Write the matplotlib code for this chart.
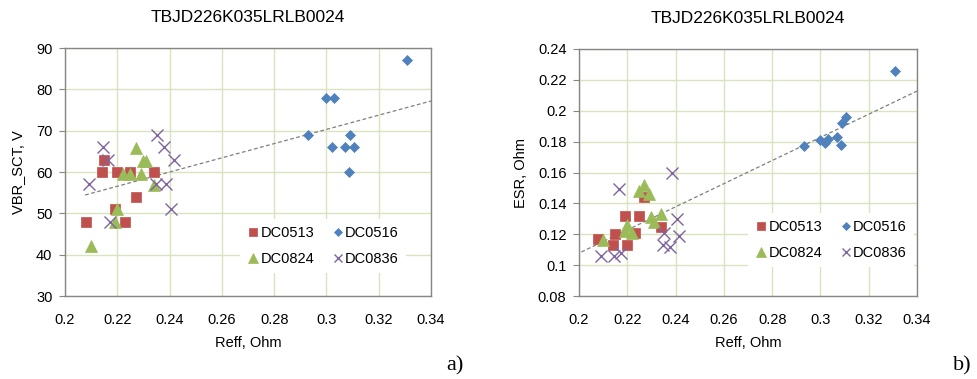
import numpy as np
import matplotlib
matplotlib.use("Agg")
import matplotlib.pyplot as plt
from matplotlib.lines import Line2D

plt.rcParams['font.family'] = ['Liberation Sans', 'DejaVu Sans']

title = "TBJD226K035LRLB0024"
series_names = ["DC0513", "DC0516", "DC0824", "DC0836"]

# Reff, Ohm per series (shared by both panels)
reff_0513 = [0.208, 0.214, 0.215, 0.219, 0.220, 0.223, 0.225, 0.227, 0.234]
reff_0516 = [0.331, 0.300, 0.303, 0.293, 0.309, 0.302, 0.307, 0.3105, 0.3086]
reff_0824 = [0.210, 0.219, 0.220, 0.222, 0.225, 0.227, 0.229, 0.230, 0.231, 0.234]
reff_0836 = [0.209, 0.2146, 0.2164, 0.2174, 0.2348, 0.2352, 0.2378, 0.2387, 0.2404, 0.2416]

# Panel a) VBR_SCT, V
vbr_0513 = [48, 60, 63, 51, 60, 48, 60, 54, 60]
vbr_0516 = [87, 78, 78, 69, 69, 66, 66, 66, 60]
vbr_0824 = [42, 48, 51, 59.5, 59.5, 65.7, 59.5, 62.7, 62.7, 56.8]
vbr_0836 = [57, 66, 63, 48, 57, 69, 66, 57, 51, 63]

# Panel b) ESR, Ohm
esr_0513 = [0.117, 0.113, 0.120, 0.1315, 0.113, 0.121, 0.1315, 0.144, 0.125]
esr_0516 = [0.226, 0.181, 0.182, 0.177, 0.192, 0.179, 0.183, 0.196, 0.178]
esr_0824 = [0.116, 0.122, 0.126, 0.121, 0.148, 0.152, 0.146, 0.131, 0.128, 0.133]
esr_0836 = [0.106, 0.106, 0.149, 0.108, 0.113, 0.121, 0.112, 0.160, 0.130, 0.119]

x_ticks = [0.2, 0.22, 0.24, 0.26, 0.28, 0.3, 0.32, 0.34]
x_tick_labels = ["0.2", "0.22", "0.24", "0.26", "0.28", "0.3", "0.32", "0.34"]
yA_ticks = [30, 40, 50, 60, 70, 80, 90]
yB_ticks = [0.08, 0.1, 0.12, 0.14, 0.16, 0.18, 0.2, 0.22, 0.24]
yB_tick_labels = ["0.08", "0.1", "0.12", "0.14", "0.16", "0.18", "0.2", "0.22", "0.24"]

colors = ["#C0504D", "#4F81BD", "#9BBB59", "#8064A2"]
markers = ["s", "D", "^", "x"]
msizes = [7.2, 5.6, 8.8, 8.0]
grid_c = "#D7E4BD"
frame_c = "#868686"

W, H = 977, 379
fig = plt.figure(figsize=(W / 100, H / 100), dpi=100)

def px_axes(l, t, r, b):
    return fig.add_axes([l / W, 1 - b / H, (r - l) / W, (b - t) / H])

def panel(ax, ys, ylim, yticks, ytl, ylabel, tr_x0, leg_box, ylabpad):
    reffs = [reff_0513, reff_0516, reff_0824, reff_0836]
    for rx, yv, c, m, ms in zip(reffs, ys, colors, markers, msizes):
        if m == "x":
            ax.plot(rx, yv, ls="none", marker=m, ms=ms, mec=c, mew=1.0, zorder=3)
        else:
            ax.plot(rx, yv, ls="none", marker=m, ms=ms, mfc=c, mec=c, mew=0.5, zorder=3)
    allx = np.concatenate([np.array(r, float) for r in reffs])
    ally = np.concatenate([np.array(v, float) for v in ys])
    k, b0 = np.polyfit(allx, ally, 1)
    xx = np.array([tr_x0, 0.34])
    ax.plot(xx, k * xx + b0, ls=(0, (3, 2)), color="#7F7F7F", lw=0.9, zorder=2.5)
    ax.set_xlim(0.2, 0.34)
    ax.set_ylim(*ylim)
    ax.set_xticks(x_ticks)
    ax.set_xticklabels(x_tick_labels)
    ax.set_yticks(yticks)
    ax.set_yticklabels(ytl)
    ax.grid(True, color=grid_c, lw=1.0, zorder=0)
    ax.set_axisbelow(True)
    for s in ax.spines.values():
        s.set_color(frame_c)
        s.set_linewidth(1.0)
        s.set_zorder(5)
    ax.tick_params(axis="y", length=4, color=frame_c, pad=5, labelsize=10.5)
    ax.tick_params(axis="x", length=0, pad=12, labelsize=10.5)
    ax.set_title(title, fontsize=12.5, pad=19)
    ax.set_xlabel("Reff, Ohm", fontsize=10.5, labelpad=7)
    ax.set_ylabel(ylabel, fontsize=10.5, labelpad=ylabpad)
    handles = [Line2D([], [], ls="none", marker=m, color=c, mfc=c, mec=c,
                      ms=ms * 0.75, mew=1.0 if m == "x" else 0.5)
               for c, m, ms in zip(colors, markers, msizes)]
    # legend order: row1 DC0513, DC0516 ; row2 DC0824, DC0836
    order = [0, 2, 1, 3]
    leg = ax.legend([handles[i] for i in order], [series_names[i] for i in order],
                    ncol=2, loc="upper left", bbox_to_anchor=leg_box,
                    frameon=True, fancybox=False, framealpha=1.0,
                    edgecolor="none", facecolor="white", fontsize=10.5,
                    handlelength=0.8, handletextpad=0.1, columnspacing=1.2,
                    labelspacing=0.8, borderpad=0.5, borderaxespad=0)
    leg.set_zorder(4)

axA = px_axes(65, 48, 431, 296)
panel(axA, [vbr_0513, vbr_0516, vbr_0824, vbr_0836], (30, 90), yA_ticks,
      [str(v) for v in yA_ticks], "VBR_SCT, V", 0.2077,
      ((240 - 65) / 366, (296 - 219) / 248), 8)

axB = px_axes(579, 49, 917, 296)
panel(axB, [esr_0513, esr_0516, esr_0824, esr_0836], (0.08, 0.24), yB_ticks,
      yB_tick_labels, "ESR, Ohm", 0.201,
      ((748 - 579) / 338, (296 - 213) / 247), 7)

fig.text(455 / W, 1 - 366 / H, "a)", family="Liberation Serif", fontsize=16,
         ha="center", va="center")
fig.text(962 / W, 1 - 366 / H, "b)", family="Liberation Serif", fontsize=16,
         ha="center", va="center")

fig.savefig("out.png", dpi=100)
